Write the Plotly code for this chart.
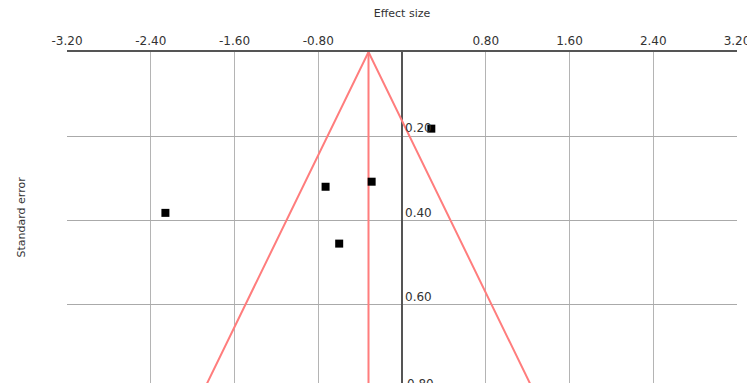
import plotly.graph_objects as go

# Study data (effect size, standard error)
effect = [0.28, -0.73, -0.29, -2.26, -0.60]
std_err = [0.182, 0.320, 0.308, 0.382, 0.455]

# Funnel parameters
mean_effect = -0.32
z_value = 1.96
funnel_se = [0.0, 0.9]

# Axis ticks
x_ticks = [-3.2, -2.4, -1.6, -0.8, 0.8, 1.6, 2.4, 3.2]
y_ticks = [0.2, 0.4, 0.6]
y_extra_tick = 0.8
x_range = [-3.2, 3.2]
y_range = [0.786, 0.0]

font_family = "DejaVu Sans"
text_color = "#333333"
funnel_color = "rgb(255,125,125)"

fig = go.Figure()

left_x = [mean_effect - z_value * s for s in funnel_se]
right_x = [mean_effect + z_value * s for s in funnel_se]
fig.add_trace(go.Scatter(
    x=[left_x[1], left_x[0], right_x[1]],
    y=[funnel_se[1], funnel_se[0], funnel_se[1]],
    mode="lines", line=dict(color=funnel_color, width=2),
    hoverinfo="skip", showlegend=False))
fig.add_trace(go.Scatter(
    x=[mean_effect, mean_effect], y=funnel_se,
    mode="lines", line=dict(color=funnel_color, width=2),
    hoverinfo="skip", showlegend=False))
fig.add_trace(go.Scatter(
    x=effect, y=std_err, mode="markers",
    marker=dict(symbol="square", size=8, color="black", line=dict(width=0)),
    showlegend=False))

fig.update_layout(
    width=747, height=383,
    margin=dict(l=67, r=10, t=52, b=0),
    paper_bgcolor="white", plot_bgcolor="white",
    font=dict(family=font_family, size=11, color=text_color),
    xaxis=dict(
        side="top", range=x_range, tickvals=x_ticks,
        ticktext=[f"{v:.2f}" for v in x_ticks],
        ticks="", showgrid=True, gridcolor="#b4b4b4", gridwidth=1,
        zeroline=True, zerolinecolor="#555555", zerolinewidth=2,
        showline=True, linecolor="#555555", linewidth=2,
        tickfont=dict(size=12, color=text_color),
        ticklabeloverflow="allow",
        title=dict(text="Effect size", standoff=14, font=dict(size=11, color=text_color)),
        automargin=False,
    ),
    yaxis=dict(
        range=y_range, tickvals=y_ticks,
        ticktext=[f"{v:.2f}" for v in y_ticks],
        ticks="", showgrid=True, gridcolor="#aaaaaa", gridwidth=1,
        zeroline=False, showline=False,
        anchor="free", position=0.5, side="right",
        ticklabelshift=8, ticklabelstandoff=2,
        tickfont=dict(size=12, color=text_color),
        automargin=False,
    ),
    annotations=[
        dict(text="Standard error", xref="paper", yref="paper", x=0, y=0.5,
             xanchor="center", yanchor="middle", textangle=-90, xshift=-46,
             showarrow=False, font=dict(size=11, color=text_color)),
        dict(text=f"{y_extra_tick:.2f}", xref="x", yref="paper", x=0, y=0,
             xanchor="left", yanchor="top", xshift=3, yshift=8,
             showarrow=False, font=dict(size=12, color=text_color)),
    ],
)

fig.write_html(
    "out.html",
    config={"displayModeBar": False},
    post_script="document.body.style.margin='0';document.body.style.overflow='hidden';",
)
